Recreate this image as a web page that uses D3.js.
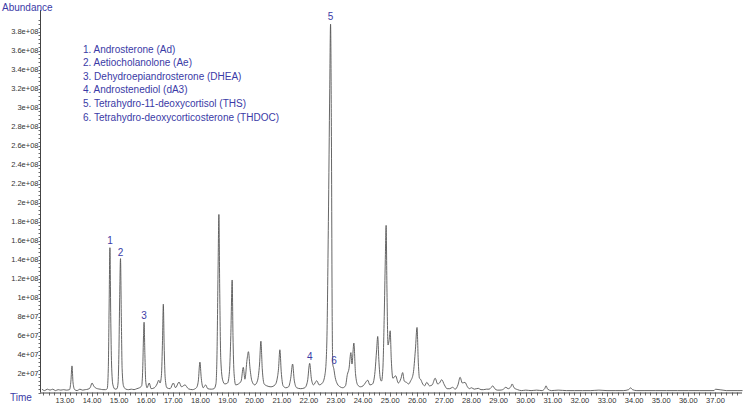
<!DOCTYPE html>
<html><head><meta charset="utf-8">
<script src="https://cdn.jsdelivr.net/npm/d3@7"></script>
<style>body{margin:0;background:#fff}svg{display:block}</style>
</head><body><svg id="c" width="745" height="406"></svg>
<script>
// Retention time (min)
const times = [12.15,12.25,12.35,12.45,12.55,12.65,12.75,12.85,12.95,13.05,13.17,13.22,13.26,13.30,13.36,13.45,13.55,13.65,13.75,13.85,13.93,14.0,14.06,14.12,14.2,14.3,14.4,14.5,14.56,14.60,14.63,14.66,14.69,14.72,14.77,14.85,14.92,14.96,14.99,15.02,15.05,15.08,15.11,15.16,15.25,15.35,15.45,15.55,15.65,15.75,15.83,15.87,15.90,15.92,15.95,15.98,16.03,16.11,16.18,16.3,16.4,16.46,16.51,16.56,16.60,16.63,16.66,16.70,16.76,16.88,17.0,17.08,17.21,17.3,17.43,17.55,17.7,17.85,17.92,17.98,18.03,18.1,18.19,18.27,18.4,18.5,18.57,18.61,18.65,18.68,18.71,18.75,18.82,18.9,19.0,19.07,19.12,19.17,19.20,19.24,19.3,19.4,19.5,19.58,19.64,19.72,19.77,19.83,19.9,20.0,20.1,20.18,20.23,20.28,20.35,20.45,20.6,20.75,20.82,20.88,20.93,20.98,21.05,21.15,21.25,21.33,21.40,21.46,21.55,21.7,21.85,21.95,22.03,22.09,22.17,22.29,22.38,22.5,22.6,22.66,22.72,22.77,22.80,22.83,22.86,22.88,22.92,22.97,23.05,23.15,23.25,23.35,23.42,23.48,23.55,23.59,23.66,23.72,23.8,23.9,24.0,24.08,24.17,24.25,24.35,24.44,24.50,24.54,24.58,24.64,24.68,24.73,24.78,24.82,24.85,24.88,24.92,24.96,25.0,25.04,25.1,25.2,25.3,25.4,25.46,25.52,25.6,25.68,25.75,25.85,25.93,25.99,26.04,26.08,26.12,26.2,26.27,26.35,26.45,26.55,26.66,26.75,26.82,26.9,27.0,27.1,27.2,27.3,27.4,27.5,27.58,27.66,27.76,27.85,27.92,28.0,28.1,28.25,28.35,28.45,28.55,28.65,28.72,28.78,28.86,28.95,29.05,29.15,29.27,29.35,29.45,29.5,29.57,29.7,29.85,30.0,30.2,30.4,30.6,30.7,30.75,30.81,30.95,31.2,31.5,31.8,32.1,32.4,32.7,33.0,33.3,33.6,33.8,33.87,33.94,34.1,34.4,34.8,35.2,35.6,36.0,36.4,36.8,36.95,37.0,37.4,37.8,38.0];
// Abundance, in units of 1e7
const abundance = [0.35,0.2,0.35,0.25,0.35,0.2,0.3,0.25,0.3,0.25,0.3,1.2,2.8,1.0,0.3,0.2,0.35,0.25,0.3,0.35,0.5,1.0,0.7,0.5,0.4,0.35,0.3,0.3,0.4,2.5,9,15.25,8,3,0.8,0.35,0.4,1.0,4,10,14.1,8,2.5,0.7,0.35,0.3,0.35,0.3,0.4,0.5,0.7,2.5,6,7.4,4,1.2,0.5,1.0,0.4,0.5,0.9,1.3,1.0,1.8,5.5,9.3,5,1.5,0.5,0.4,1.0,0.5,1.1,0.6,0.8,0.4,0.3,0.5,1.2,3.2,1.5,0.5,0.8,0.4,0.35,0.4,0.9,4,13,18.75,11,3.5,1.3,0.9,1.0,2.2,6,11.85,6,2,0.8,0.9,1.2,2.65,1.4,3.5,4.3,2.5,1.2,0.8,1.2,3,5.4,2.5,0.9,0.7,0.6,0.8,1.3,2.5,4.5,2.2,0.7,0.5,0.6,1.5,3.0,1.3,0.5,0.4,0.5,1.2,3.07,1.5,0.8,1.24,0.8,1.0,2.0,5,18,32,38.8,28,8,3.0,2.5,1.6,0.9,0.6,0.5,0.7,1.9,2.5,4.2,3.0,5.2,2.0,0.8,0.6,0.7,1.0,1.3,0.8,0.9,2.2,4.5,5.9,3.5,1.4,1.2,2.5,8,14,17.6,11,5.0,5.5,6.5,3.5,1.5,1.76,1.0,1.5,2.1,1.2,1.07,0.9,1.2,2.0,4.5,6.85,3.0,1.5,1.4,0.9,0.7,1.07,0.7,0.8,1.5,0.9,1.0,1.35,0.8,0.4,0.4,0.55,0.35,0.8,1.6,1.0,1.07,0.6,0.4,0.5,0.35,0.44,0.3,0.3,0.35,0.35,0.5,0.7,0.4,0.25,0.25,0.3,0.55,0.4,0.6,0.9,0.5,0.3,0.2,0.25,0.2,0.25,0.2,0.4,0.7,0.35,0.2,0.25,0.2,0.2,0.2,0.2,0.25,0.2,0.2,0.2,0.3,0.5,0.3,0.2,0.2,0.2,0.2,0.2,0.2,0.2,0.2,0.2,0.35,0.2,0.2,0.2,0.2];
const UNIT = 1e7;

const yTickValues = [2e7,4e7,6e7,8e7,1e8,1.2e8,1.4e8,1.6e8,1.8e8,2e8,2.2e8,2.4e8,2.6e8,2.8e8,3e8,3.2e8,3.4e8,3.6e8,3.8e8];
const yTickLabels = ["2e+07","4e+07","6e+07","8e+07","1e+08","1.2e+08","1.4e+08","1.6e+08","1.8e+08","2e+08","2.2e+08","2.4e+08","2.6e+08","2.8e+08","3e+08","3.2e+08","3.4e+08","3.6e+08","3.8e+08"];
const xTickValues = [13,14,15,16,17,18,19,20,21,22,23,24,25,26,27,28,29,30,31,32,33,34,35,36,37];
const xTickLabels = ["13.00","14.00","15.00","16.00","17.00","18.00","19.00","20.00","21.00","22.00","23.00","24.00","25.00","26.00","27.00","28.00","29.00","30.00","31.00","32.00","33.00","34.00","35.00","36.00","37.00"];

const legendItems = ["1. Androsterone (Ad)","2. Aetiocholanolone (Ae)","3. Dehydroepiandrosterone (DHEA)","4. Androstenediol (dA3)","5. Tetrahydro-11-deoxycortisol (THS)","6. Tetrahydro-deoxycorticosterone (THDOC)"];
const peakLabels = ["1","2","3","4","5","6"];
const peakLabelTimes = [14.66,15.05,15.92,22.03,22.80,22.93];
const peakLabelAbund = [16.05,14.73,8.14,3.76,39.65,3.34]; // label centre, 1e7 units

const svg = d3.select("#c");
const blue = "#3a3aa6", axisCol = "#444", textCol = "#333";
const font = "'Liberation Sans', Arial, sans-serif";

const x = d3.scaleLinear().domain([12.08, 37.98]).range([40, 742]);
const y = d3.scaleLinear().domain([0, 3.8e8]).range([392.5, 31.7]);

// Y axis
const gy = svg.append("g");
gy.append("line").attr("x1",40.5).attr("x2",40.5).attr("y1",10).attr("y2",y(0)).attr("stroke",axisCol).attr("stroke-width",1);
gy.selectAll("line.minor").data(d3.range(0, 3.95e8, 4e6)).join("line").attr("class","minor")
  .attr("x1",38.5).attr("x2",40.5).attr("y1",d=>Math.round(y(d))+0.5).attr("y2",d=>Math.round(y(d))+0.5)
  .attr("stroke",axisCol).attr("stroke-width",0.8);
gy.selectAll("text").data(yTickValues).join("text")
  .attr("x",38.5).attr("y",d=>y(d)).attr("dy","0.35em").attr("text-anchor","end")
  .attr("font-family",font).attr("font-size","7.5px").attr("fill",textCol)
  .text((d,i)=>yTickLabels[i]);

// X axis
const gx = svg.append("g");
gx.append("line").attr("x1",40).attr("x2",742).attr("y1",y(0)+0.5).attr("y2",y(0)+0.5).attr("stroke",axisCol).attr("stroke-width",1);
gx.selectAll("line.minor").data(d3.range(12.2, 38.0, 0.2)).join("line").attr("class","minor")
  .attr("x1",d=>Math.round(x(d))+0.5).attr("x2",d=>Math.round(x(d))+0.5)
  .attr("y1",y(0)).attr("y2",d=>y(0)+(Math.abs(d-Math.round(d))<0.01?4:3))
  .attr("stroke",axisCol).attr("stroke-width",0.8);
gx.selectAll("text").data(xTickValues).join("text")
  .attr("x",d=>x(d)).attr("y",400).attr("dy","0.35em").attr("text-anchor","middle")
  .attr("font-family",font).attr("font-size","7.5px").attr("fill",textCol)
  .text((d,i)=>xTickLabels[i]);

// Axis titles
svg.append("text").attr("x",2).attr("y",7).attr("dy","0.35em").attr("font-family",font).attr("font-size","10px").attr("fill",blue).text("Abundance");
svg.append("text").attr("x",10).attr("y",397).attr("dy","0.35em").attr("font-family",font).attr("font-size","10px").attr("fill",blue).text("Time");

// Trace
const pts = times.map((t,i)=>[t, abundance[i]*UNIT]);
const line = d3.line().x(d=>x(d[0])).y(d=>y(d[1])).curve(d3.curveMonotoneX);
svg.append("path").datum(pts).attr("d",line).attr("fill","none").attr("stroke","#555").attr("stroke-width",0.9);

// Peak labels
svg.selectAll("text.pk").data(peakLabels).join("text").attr("class","pk")
  .attr("x",(d,i)=>x(peakLabelTimes[i])).attr("y",(d,i)=>y(peakLabelAbund[i]*UNIT)).attr("dy","0.35em")
  .attr("text-anchor","middle").attr("font-family",font).attr("font-size","10px").attr("fill",blue).text(d=>d);

// Legend
svg.selectAll("text.lg").data(legendItems).join("text").attr("class","lg")
  .attr("x",83).attr("y",(d,i)=>49+i*13.6).attr("dy","0.35em")
  .attr("font-family",font).attr("font-size","10px").attr("fill",blue).text(d=>d);
</script></body></html>
